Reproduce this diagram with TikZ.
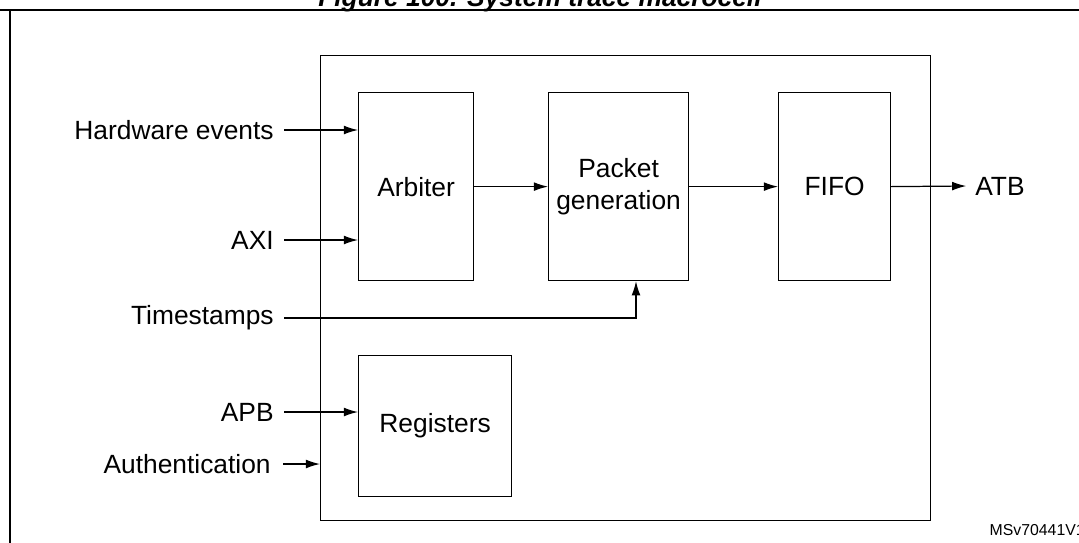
\documentclass[tikz,border=0pt]{standalone}
\usepackage{fontspec}
\setmainfont{Liberation Sans}
\usetikzlibrary{arrows.meta}
\tikzstyle{block} = [draw=black, line width=0.7pt, anchor=north west, inner sep=0pt]
\tikzstyle{arrow} = [line width=0.7pt, -{Latex[length=8pt,width=5pt]}]
\tikzstyle{sig} = [anchor=east, inner sep=0pt, font=\fontsize{15}{18}\selectfont]
\tikzstyle{txt} = [align=center, font=\fontsize{15}{18}\selectfont]
\begin{document}
\begin{tikzpicture}[x=0.02cm, y=-0.02cm]
\useasboundingbox (0,0) rectangle (1079,542);
\clip (0,0) rectangle (1079,542);
% title and frame
\node (title) [font=\bfseries\itshape\fontsize{15}{18}\selectfont] at (540,0) {Figure 100. System trace macrocell};
\draw [line width=1pt] (0,10) -- (1079,10);
\draw [line width=0.7pt] (10,10) -- (10,560);
% blocks
\node (stm) [block, minimum width=610*0.02cm, minimum height=465*0.02cm] at (320,55) {};
\node (arb) [block, minimum width=115*0.02cm, minimum height=188*0.02cm] at (358,92) {};
\node (pkt) [block, minimum width=140*0.02cm, minimum height=188*0.02cm] at (548,92) {};
\node (fifo) [block, minimum width=112*0.02cm, minimum height=188*0.02cm] at (778,92) {};
\node (regs) [block, minimum width=153*0.02cm, minimum height=141*0.02cm] at (358,355) {};
\node [txt] at (arb.center) {Arbiter};
\node [txt] at (pkt.center) {Packet\\generation};
\node [txt] at (fifo.center) {FIFO};
\node [txt] at (regs.center) {Registers};
% inputs
\node (hw) [sig] at (274,130) {Hardware events};
\node (axi) [sig] at (274,240) {AXI};
\node (ts) [sig] at (274,318) {Timestamps};
\node (apb) [sig] at (274,412) {APB};
\node (auth) [sig] at (271,464) {Authentication};
\node (atb) [txt, anchor=west, inner sep=0pt] at (975,186) {ATB};
\coordinate (tsk) at (636,318);
\draw [arrow] (hw.east) ++(10,0) -- (hw.east -| arb.west);
\draw [arrow] (axi.east) ++(10,0) -- (axi.east -| arb.west);
\draw [arrow] (apb.east) ++(10,0) -- (apb.east -| regs.west);
\draw [arrow] (auth.east) ++(12,0) -- (auth.east -| stm.west);
\draw [arrow] (ts.east) ++(10,0) -- (tsk) -- (tsk |- pkt.south);
\draw [arrow] (arb.east) -- (pkt.west);
\draw [arrow] (pkt.east) -- (fifo.west);
\draw [arrow] (fifo.east) -- ([xshift=-5pt]atb.west);
\node (ref) [anchor=south east, inner sep=0pt, font=\fontsize{9}{11}\selectfont] at (1085,536) {MSv70441V1};
\end{tikzpicture}
\end{document}
